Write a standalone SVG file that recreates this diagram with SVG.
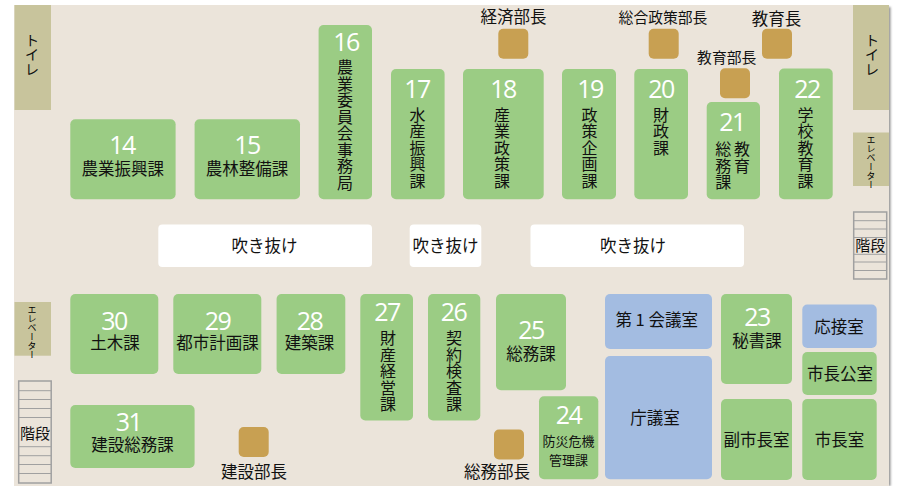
<svg xmlns="http://www.w3.org/2000/svg" width="901" height="486" viewBox="0 0 901 486">
<defs><filter id="blur" x="-200%" y="-5%" width="500%" height="110%"><feGaussianBlur stdDeviation="1"/></filter></defs>
<style>
text{font-family:"Noto Sans CJK JP","Liberation Sans",sans-serif;fill:#111;font-size:16.5px;text-anchor:middle}
.g{fill:#9bcc84}.b{fill:#a3bce1}.m{fill:#c8a052}.k{fill:#c8c49c}.w{fill:#fff}
.n{font-family:"Open Sans","Liberation Sans",sans-serif;font-weight:400;fill:#fff;font-size:25px;letter-spacing:-1.500px}
.v{writing-mode:vertical-rl;text-anchor:start;font-size:16px;letter-spacing:.5px}
.vt{font-size:14.500px;letter-spacing:0}
.e{font-size:9px;letter-spacing:0;fill:#000}.s{font-size:15px}.t{font-size:14.800px}.o{font-size:13px}
.st{stroke:#a0a0a0;fill:none;stroke-width:1}.so{stroke:#a0a0a0;fill:none;stroke-width:1.500}
</style>
<rect x="887" y="7" width="3.500" height="479" fill="#8f8f8f" filter="url(#blur)"/>
<rect x="14" y="5" width="875" height="481" fill="#ebe4da"/>
<g id="toilet-left"><rect class="k" x="14.500" y="5" width="36.500" height="105"/><text class="v vt" x="32" y="33">トイレ</text></g>
<g id="toilet-right"><rect class="k" x="853" y="5" width="36" height="105"/><text class="v vt" x="872" y="33">トイレ</text></g>
<g id="elevator-right"><rect class="k" x="853" y="132.500" width="36" height="53.500"/><text class="v e" x="871" y="135">エレベーター</text></g>
<g id="elevator-left"><rect class="k" x="14.500" y="302" width="36.500" height="53.700"/><text class="v e" x="32" y="305.500">エレベーター</text></g>
<g id="stairs-right"><rect class="so" x="853.700" y="212" width="33" height="67"/><path class="st" d="M854 220.700H886M854 229H886M854 237.500H886M854 254.300H886M854 262H886M854 270.500H886"/><text class="s" x="870.300" y="251">階段</text></g>
<g id="stairs-left"><rect class="so" x="18.700" y="381" width="32.500" height="102"/><path class="st" d="M19 390.700H51M19 399.500H51M19 408.500H51M19 417.500H51M19 446.700H51M19 455.700H51M19 464.500H51M19 473.500H51"/><text class="s" x="35" y="439">階段</text></g>
<g id="void-1"><rect class="w" x="158.300" y="224.500" width="213.700" height="42.500" rx="4"/><text x="264.500" y="252">吹き抜け</text></g>
<g id="void-2"><rect class="w" x="409.700" y="224.500" width="71.600" height="42.500" rx="4"/><text x="445.500" y="252">吹き抜け</text></g>
<g id="void-3"><rect class="w" x="530.500" y="224.500" width="213.500" height="42.500" rx="4"/><text x="633" y="252">吹き抜け</text></g>
<g id="room-14"><rect class="g" x="70.300" y="119.300" width="105.300" height="80" rx="5"/><text class="n" x="122" y="154">14</text><text x="122.800" y="175">農業振興課</text></g>
<g id="room-15"><rect class="g" x="194.600" y="119.300" width="105.400" height="80" rx="5"/><text class="n" x="247" y="154">15</text><text x="247" y="175">農林整備課</text></g>
<g id="room-16"><rect class="g" x="318.600" y="25" width="53.400" height="174.300" rx="5"/><text class="n" x="346" y="51">16</text><text class="v" x="345" y="59">農業委員会事務局</text></g>
<g id="room-17"><rect class="g" x="391" y="69" width="53.600" height="130.300" rx="5"/><text class="n" x="417" y="98">17</text><text class="v" x="417.500" y="106.500">水産振興課</text></g>
<g id="room-18"><rect class="g" x="463" y="69" width="80.700" height="130.300" rx="5"/><text class="n" x="503" y="98">18</text><text class="v" x="502" y="106.500">産業政策課</text></g>
<g id="room-19"><rect class="g" x="562" y="69" width="54" height="130.300" rx="5"/><text class="n" x="590" y="98">19</text><text class="v" x="589.600" y="106.500">政策企画課</text></g>
<g id="room-20"><rect class="g" x="634.300" y="69" width="53.700" height="130.300" rx="5"/><text class="n" x="661" y="98">20</text><text class="v" x="661" y="106.500">財政課</text></g>
<g id="room-21"><rect class="g" x="706.700" y="102" width="53.300" height="97.300" rx="5"/><text class="n" x="732" y="131">21</text><text class="v" x="742" y="141">教育</text><text class="v" x="723.300" y="141">総務課</text></g>
<g id="room-22"><rect class="g" x="779" y="68.500" width="53.700" height="130.800" rx="5"/><text class="n" x="807" y="98">22</text><text class="v" x="805.500" y="106.500">学校教育課</text></g>
<g id="room-30"><rect class="g" x="70.300" y="294" width="88" height="80" rx="5"/><text class="n" x="114" y="329.700">30</text><text x="115" y="349">土木課</text></g>
<g id="room-29"><rect class="g" x="173.300" y="294" width="88" height="80" rx="5"/><text class="n" x="217.500" y="329.700">29</text><text x="217.500" y="349">都市計画課</text></g>
<g id="room-28"><rect class="g" x="276.600" y="294" width="68.700" height="80" rx="5"/><text class="n" x="309.500" y="329.700">28</text><text x="309.500" y="349">建築課</text></g>
<g id="room-27"><rect class="g" x="360.300" y="294" width="52.700" height="126.500" rx="5"/><text class="n" x="387" y="321.300">27</text><text class="v" x="388" y="330">財産経営課</text></g>
<g id="room-26"><rect class="g" x="428" y="294" width="52.300" height="126.500" rx="5"/><text class="n" x="453.500" y="321.300">26</text><text class="v" x="454" y="330">契約検査課</text></g>
<g id="room-25"><rect class="g" x="496" y="294" width="70" height="96.300" rx="5"/><text class="n" x="531" y="339">25</text><text x="531" y="360">総務課</text></g>
<g id="room-24"><rect class="g" x="539" y="396.300" width="59.300" height="83" rx="5"/><text class="n" x="568.500" y="424">24</text><text class="o" x="568.500" y="445.700">防災危機</text><text class="o" x="568.500" y="464.700">管理課</text></g>
<g id="room-meeting1"><rect class="b" x="605" y="294" width="107" height="55" rx="5"/><text x="656.700" y="326.300">第 1 会議室</text></g>
<g id="room-council"><rect class="b" x="605" y="356" width="107" height="123.300" rx="5"/><text x="655" y="424">庁議室</text></g>
<g id="room-23"><rect class="g" x="721" y="294" width="71" height="90" rx="5"/><text class="n" x="757" y="325.700">23</text><text x="757" y="347">秘書課</text></g>
<g id="room-vice-mayor"><rect class="g" x="721" y="399" width="71" height="81" rx="5"/><text x="756.500" y="446.300">副市長室</text></g>
<g id="room-mayor"><rect class="g" x="802.300" y="399" width="74.400" height="81" rx="5"/><text x="839.500" y="446.300">市長室</text></g>
<g id="room-mayor-office"><rect class="g" x="802.300" y="352" width="74.400" height="43" rx="5"/><text x="840" y="379.700">市長公室</text></g>
<g id="room-reception"><rect class="b" x="802.300" y="304.600" width="74.400" height="43.400" rx="5"/><text x="839" y="333">応接室</text></g>
<g id="room-31"><rect class="g" x="70.300" y="405" width="124.300" height="63" rx="5"/><text class="n" x="128.500" y="431">31</text><text x="132.500" y="451">建設総務課</text></g>
<g id="desk-keizai"><rect class="m" x="498.300" y="28.700" width="30" height="30" rx="5"/><text x="513.500" y="23">経済部長</text></g>
<g id="desk-sogo"><rect class="m" x="648.700" y="28.700" width="30" height="30" rx="5"/><text class="t" x="663" y="23">総合政策部長</text></g>
<g id="desk-kyoikucho"><rect class="m" x="762" y="28.700" width="30" height="30" rx="5"/><text x="776.600" y="25">教育長</text></g>
<g id="desk-kyoiku"><rect class="m" x="720" y="68.300" width="30" height="30" rx="5"/><text class="t" x="726.700" y="63">教育部長</text></g>
<g id="desk-kensetsu"><rect class="m" x="238.700" y="427" width="30" height="30" rx="5"/><text x="254" y="478">建設部長</text></g>
<g id="desk-somu"><rect class="m" x="494" y="429.500" width="30" height="30" rx="5"/><text x="497" y="478">総務部長</text></g>
</svg>
